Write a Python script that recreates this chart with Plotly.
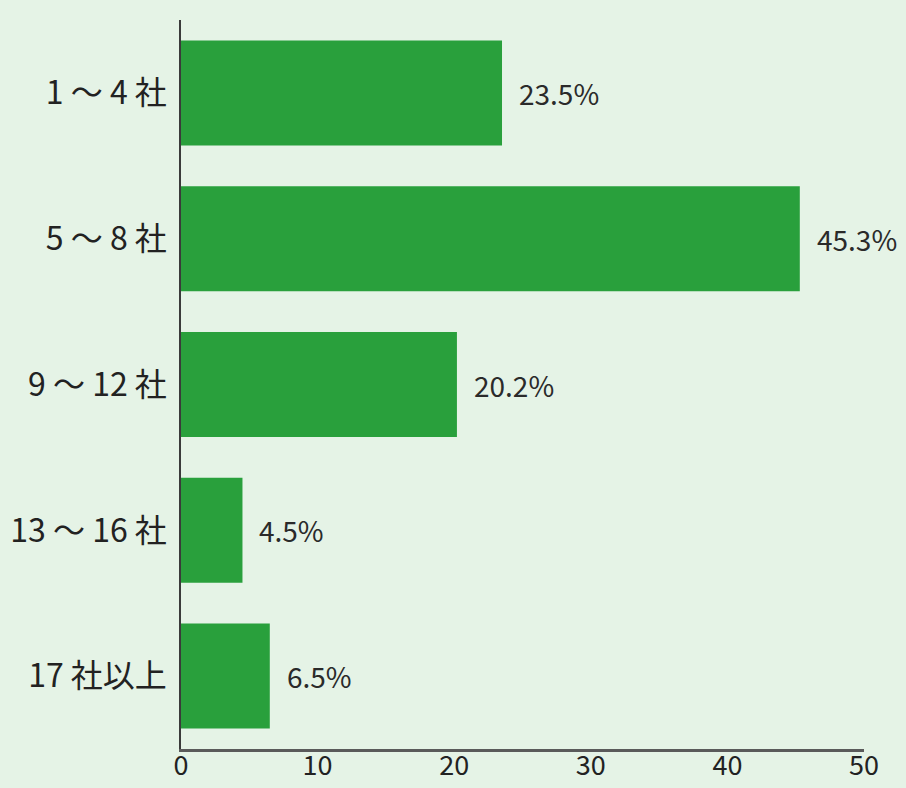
import plotly.graph_objects as go

categories = ["1 ～ 4 社", "5 ～ 8 社", "9 ～ 12 社", "13 ～ 16 社", "17 社以上"]
values = [23.5, 45.3, 20.2, 4.5, 6.5]
labels = ["23.5%", "45.3%", "20.2%", "4.5%", "6.5%"]
x_ticks = [0, 10, 20, 30, 40, 50]

BG = "#e5f3e6"
BAR = "#29a03c"
FONT = "Noto Sans CJK JP"

fig = go.Figure()
fig.add_trace(go.Bar(
    y=categories, x=values, orientation="h",
    marker=dict(color=BAR, line=dict(width=0)),
    hoverinfo="skip",
))

for c, v, t in zip(categories, values, labels):
    fig.add_annotation(x=v, y=c, text=t, showarrow=False, xanchor="left",
                       xshift=15, font=dict(family=FONT, size=28, color="#2a2a2a"))

fig.update_layout(
    width=906, height=788,
    paper_bgcolor=BG, plot_bgcolor=BG,
    margin=dict(l=181, r=42, t=20, b=39, autoexpand=False),
    bargap=0.28,
    showlegend=False,
    font=dict(family=FONT, color="#222222"),
)
fig.update_yaxes(
    categoryorder="array", categoryarray=categories[::-1],
    showline=True, linecolor="#3a3a3a", linewidth=1.5,
    showgrid=False, zeroline=False, ticks="",
    automargin=False,
    ticklabelstandoff=6,
    tickfont=dict(family=FONT, size=32, color="#222222"),
)
fig.update_xaxes(
    range=[0, 50], tickvals=x_ticks,
    showline=True, linecolor="#5a5a5a", linewidth=2.5,
    showgrid=False, zeroline=False, ticks="",
    automargin=False,
    ticklabelstandoff=-9,
    tickfont=dict(family=FONT, size=27, color="#222222"),
)

fig.write_html(
    "out.html",
    config={"displayModeBar": False},
    post_script="document.body.style.margin='0';document.body.style.background='%s';document.body.style.overflow='hidden';" % BG,
)
